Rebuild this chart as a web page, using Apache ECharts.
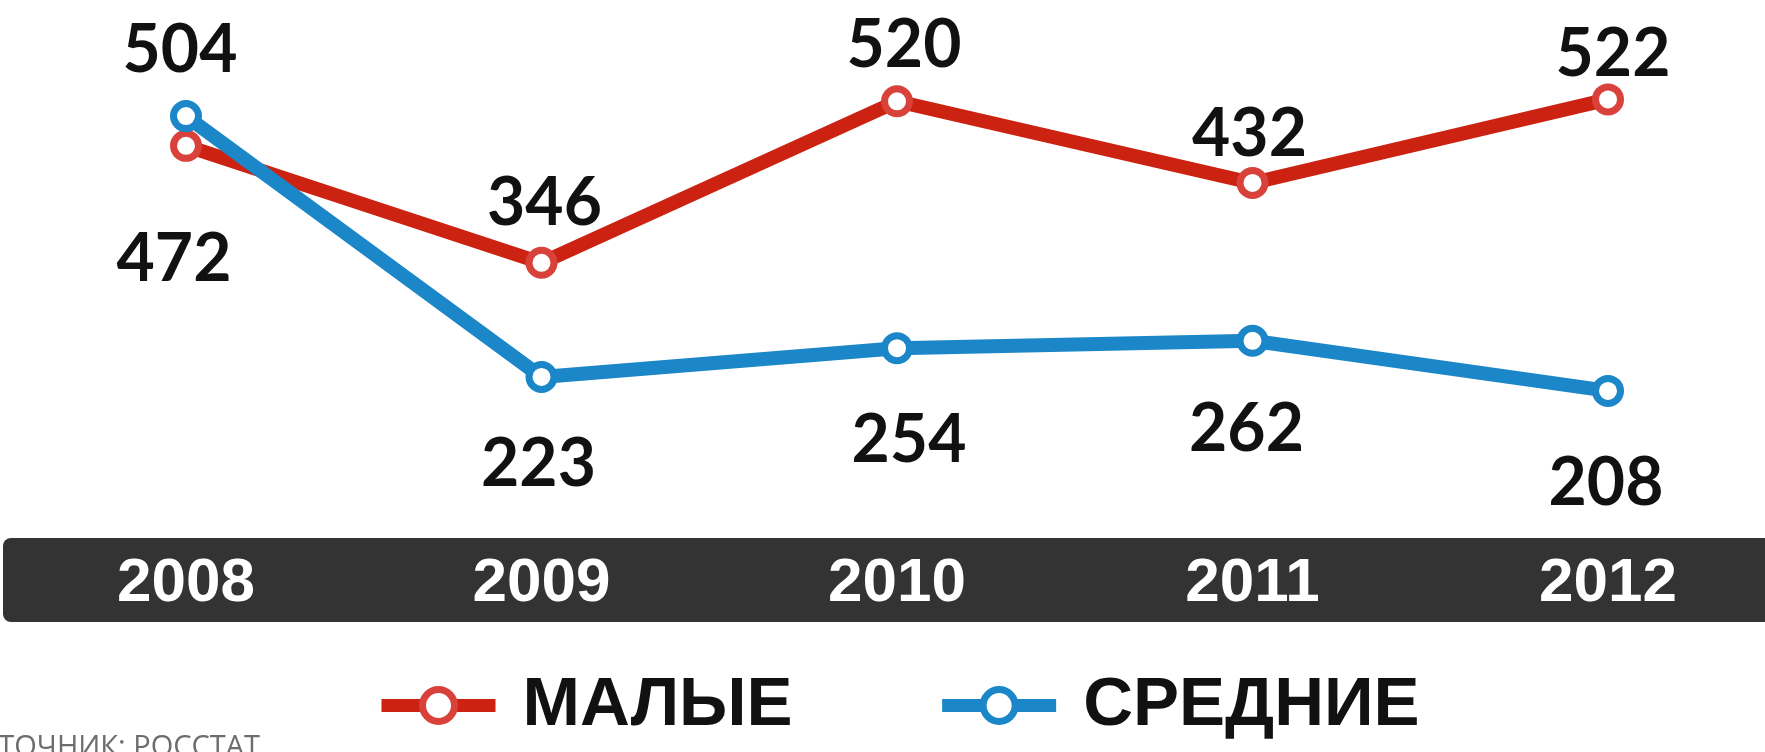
<!DOCTYPE html>
<html>
<head>
<meta charset="utf-8">
<script src="https://cdn.jsdelivr.net/npm/echarts@6/dist/echarts.min.js"></script>
<style>
  html, body { margin: 0; padding: 0; background: #fff; }
  #main { width: 1765px; height: 752px; }
</style>
</head>
<body>
<div id="main"></div>
<script>
// данные
const years = ["2008", "2009", "2010", "2011", "2012"];
const small = [472, 346, 520, 432, 522];
const medium = [504, 223, 254, 262, 208];
const seriesNames = ["МАЛЫЕ", "СРЕДНИЕ"];

const RED = "#cc2211";
const BLUE = "#1b86c8";

// смещения подписей относительно точки
const smallLabelOffsets = [[-12, 114], [3, -59], [7, -56], [-3, -48], [5, -45]];
const mediumLabelOffsets = [[-6, -65], [-3, 88], [12, 93], [-6, 89], [-2, 93]];

const labelFont = {
  fontFamily: "Lato",
  fontWeight: "bold",
  fontSize: 66,
  color: "#111",
};

function withLabels(values, offsets) {
  return values.map((v, i) => ({
    value: v,
    label: { offset: offsets[i] },
  }));
}

const chart = echarts.init(document.getElementById("main"));

const option = {
  animation: false,
  grid: {
    top: 27,
    left: 186,
    right: 157,
    bottom: 168,
  },
  // тёмная полоса с годами
  graphic: [
    {
      type: "rect",
      z: -1,
      shape: { x: 3, y: 538, width: 1800, height: 84, r: [8, 0, 0, 8] },
      style: { fill: "#333333" },
    },
    {
      type: "text",
      left: -42,
      top: 733,
      style: {
        text: "ИСТОЧНИК: РОССТАТ",
        font: "29px 'Open Sans'",
        fill: "#6d6d6d",
      },
    },
  ],
  xAxis: {
    type: "category",
    data: years,
    boundaryGap: false,
    z: 10,
    axisLine: { show: false },
    axisTick: { show: false },
    axisLabel: {
      margin: 0,
      verticalAlign: "middle",
      color: "#fff",
      fontFamily: "Liberation Sans",
      fontWeight: "bold",
      fontSize: 62,
    },
  },
  yAxis: {
    type: "value",
    min: 0,
    max: 600,
    show: false,
    splitLine: { show: false },
  },
  legend: {
    left: 370,
    top: 666,
    itemWidth: 114,
    itemHeight: 40,
    itemGap: 143,
    lineStyle: { width: 13 },
    itemStyle: { borderWidth: 7 },
    textStyle: {
      fontFamily: "Liberation Sans",
      fontWeight: "bold",
      fontSize: 69,
      color: "#111",
      padding: [0, 0, 0, 22],
    },
    data: seriesNames,
  },
  series: [
    {
      name: seriesNames[0],
      type: "line",
      z: 2,
      data: withLabels(small, smallLabelOffsets),
      symbol: "circle",
      symbolSize: 25,
      lineStyle: { color: RED, width: 14 },
      itemStyle: { color: "#fff", borderColor: "#d8423a", borderWidth: 7 },
      label: Object.assign({ show: true, position: "inside" }, labelFont),
    },
    {
      name: seriesNames[1],
      type: "line",
      z: 3,
      data: withLabels(medium, mediumLabelOffsets),
      symbol: "circle",
      symbolSize: 25,
      lineStyle: { color: BLUE, width: 14 },
      itemStyle: { color: "#fff", borderColor: BLUE, borderWidth: 7 },
      label: Object.assign({ show: true, position: "inside" }, labelFont),
    },
  ],
};

option && chart.setOption(option);
</script>
</body>
</html>
